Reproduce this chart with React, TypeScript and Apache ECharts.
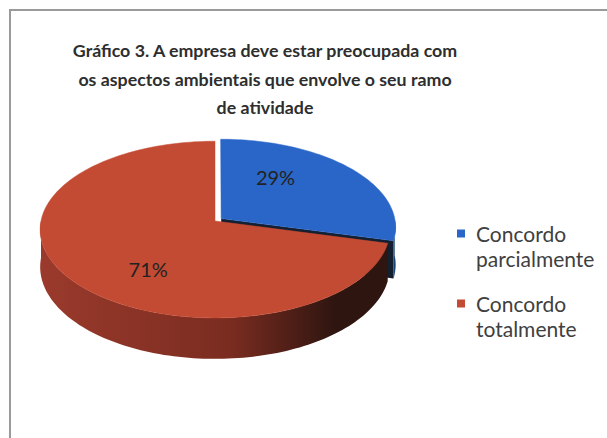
import { useEffect, useRef } from "react";
import * as echarts from "echarts";

const titleLines = [
  "Gráfico 3. A empresa deve estar preocupada com",
  "os aspectos ambientais que envolve o seu ramo",
  "de atividade",
];
const categories = ["Concordo parcialmente", "Concordo totalmente"];
const values = [29, 71];
const labels = ["29%", "71%"];
const colors = ["#2A66C8", "#C44B33"];
const wallColors = [
  ["#1c4470", "#0f2238"],
  ["#9a3a2c", "#2e1510"],
];
const faceColors = ["#141f30", "#3a1a12"];
const exploded = [0.045, 0];

// geometry (style)
const CX = 215;
const CY = 221;
const RX = 174;
const RY = 87.5;
const K = 0.097;
const DEPTH = 37;
const START = 90;
const LABEL_R = 0.62;
const LABEL_SHIFT = 18;

const rad = (d: number) => (d * Math.PI) / 180;
const proj = (u: number, v: number, down = 0): number[] => {
  const d = 1 + K * v;
  return [CX + (RX * u) / d, CY - (RY * v) / d + down / d];
};

function makeRender(i: number) {
  return (_params: any, api: any) => {
    const val = api.value(0) as number;
    const total = values.reduce((a, b) => a + b, 0);
    const before = values.slice(0, i).reduce((a, b) => a + b, 0);
    const a1 = START - (360 * before) / total;
    const a2 = a1 - (360 * val) / total;
    const mid = (a1 + a2) / 2;
    const du = exploded[i] * Math.cos(rad(mid));
    const dv = exploded[i] * Math.sin(rad(mid));
    const rim = (t: number, down = 0) =>
      proj(du + Math.cos(rad(t)), dv + Math.sin(rad(t)), down);
    const arc = (from: number, to: number, down = 0) => {
      const n = Math.max(2, Math.ceil(Math.abs(from - to) / 1.5));
      const pts: number[][] = [];
      for (let s = 0; s <= n; s++) pts.push(rim(from + ((to - from) * s) / n, down));
      return pts;
    };
    const children: any[] = [];
    const c0 = proj(du, dv);
    const c1 = proj(du, dv, DEPTH);
    if (Math.sin(rad(a2 - 90)) < -0.01) {
      children.push({
        type: "polygon",
        shape: { points: [c0, rim(a2), rim(a2, DEPTH), c1] },
        style: { fill: faceColors[i] },
      });
    }
    if (Math.sin(rad(a1 + 90)) < -0.01) {
      children.push({
        type: "polygon",
        shape: { points: [c0, rim(a1), rim(a1, DEPTH), c1] },
        style: { fill: faceColors[i] },
      });
    }
    const hi = Math.min(a1, 0);
    const lo = Math.max(a2, -180);
    if (hi > lo) {
      const top = arc(hi, lo);
      const bottom = arc(lo, hi, DEPTH);
      children.push({
        type: "polygon",
        shape: { points: top.concat(bottom) },
        style: {
          fill: new echarts.graphic.LinearGradient(0, 0, 1, 0, [
            { offset: 0, color: wallColors[i][0] },
            { offset: 0.55, color: i === 1 ? "#7a2c20" : wallColors[i][0] },
            { offset: 0.85, color: wallColors[i][1] },
            { offset: 1, color: wallColors[i][1] },
          ]),
        },
      });
    }
    children.push({
      type: "polygon",
      shape: { points: [c0].concat(arc(a1, a2)) },
      style: { fill: colors[i], stroke: colors[i], lineWidth: 0.5 },
    });
    const la = rad(mid + LABEL_SHIFT);
    const lp = proj(du + LABEL_R * Math.cos(la), dv + LABEL_R * Math.sin(la));
    children.push({
      type: "text",
      x: lp[0] - 3,
      y: lp[1] + 1,
      style: {
        text: labels[i],
        fill: "#222222",
        fontSize: 20,
        fontFamily: "Lato",
        align: "center",
        verticalAlign: "middle",
        textAlign: "center",
        textVerticalAlign: "middle",
      },
    });
    return { type: "group", children };
  };
}

export default function App() {
  const ref = useRef<HTMLDivElement>(null);
  useEffect(() => {
    if (!ref.current) return;
    const chart = echarts.init(ref.current, undefined, { renderer: "svg" });
    chart.setOption({
      animation: false,
      backgroundColor: "#ffffff",
      title: {
        text: titleLines.join("\n"),
        left: 265,
        top: 36,
        padding: 0,
        textAlign: "center",
        textStyle: {
          fontFamily: "Lato",
          fontWeight: "bold",
          fontSize: 17.8,
          lineHeight: 28.5,
          color: "#2e2e2e",
        },
      },
      legend: {
        orient: "vertical",
        left: 457,
        top: 196,
        padding: 0,
        itemWidth: 8,
        itemHeight: 8,
        itemGap: -5,
        icon: "rect",
        selectedMode: false,
        data: categories,
        formatter: (n: string) => " \n" + n.replace(" ", "\n"),
        textStyle: {
          fontFamily: "Lato",
          fontSize: 21,
          lineHeight: 25,
          color: "#404040",
          padding: [0, 0, 0, 6],
        },
      },
      graphic: [
        {
          type: "rect",
          shape: { x: 10, y: 10, width: 700, height: 600 },
          style: { fill: "none", stroke: "#9a9a9a", lineWidth: 2 },
          silent: true,
          z: -10,
        },
      ],
      series: categories.map((name, i) => ({
        type: "custom",
        name,
        coordinateSystem: "none",
        silent: true,
        itemStyle: { color: colors[i] },
        data: [[values[i]]],
        renderItem: makeRender(i),
      })),
    });
    return () => chart.dispose();
  }, []);
  return (
    <div
      ref={ref}
      style={{ position: "fixed", left: 0, top: 0, width: 607, height: 438 }}
    />
  );
}
